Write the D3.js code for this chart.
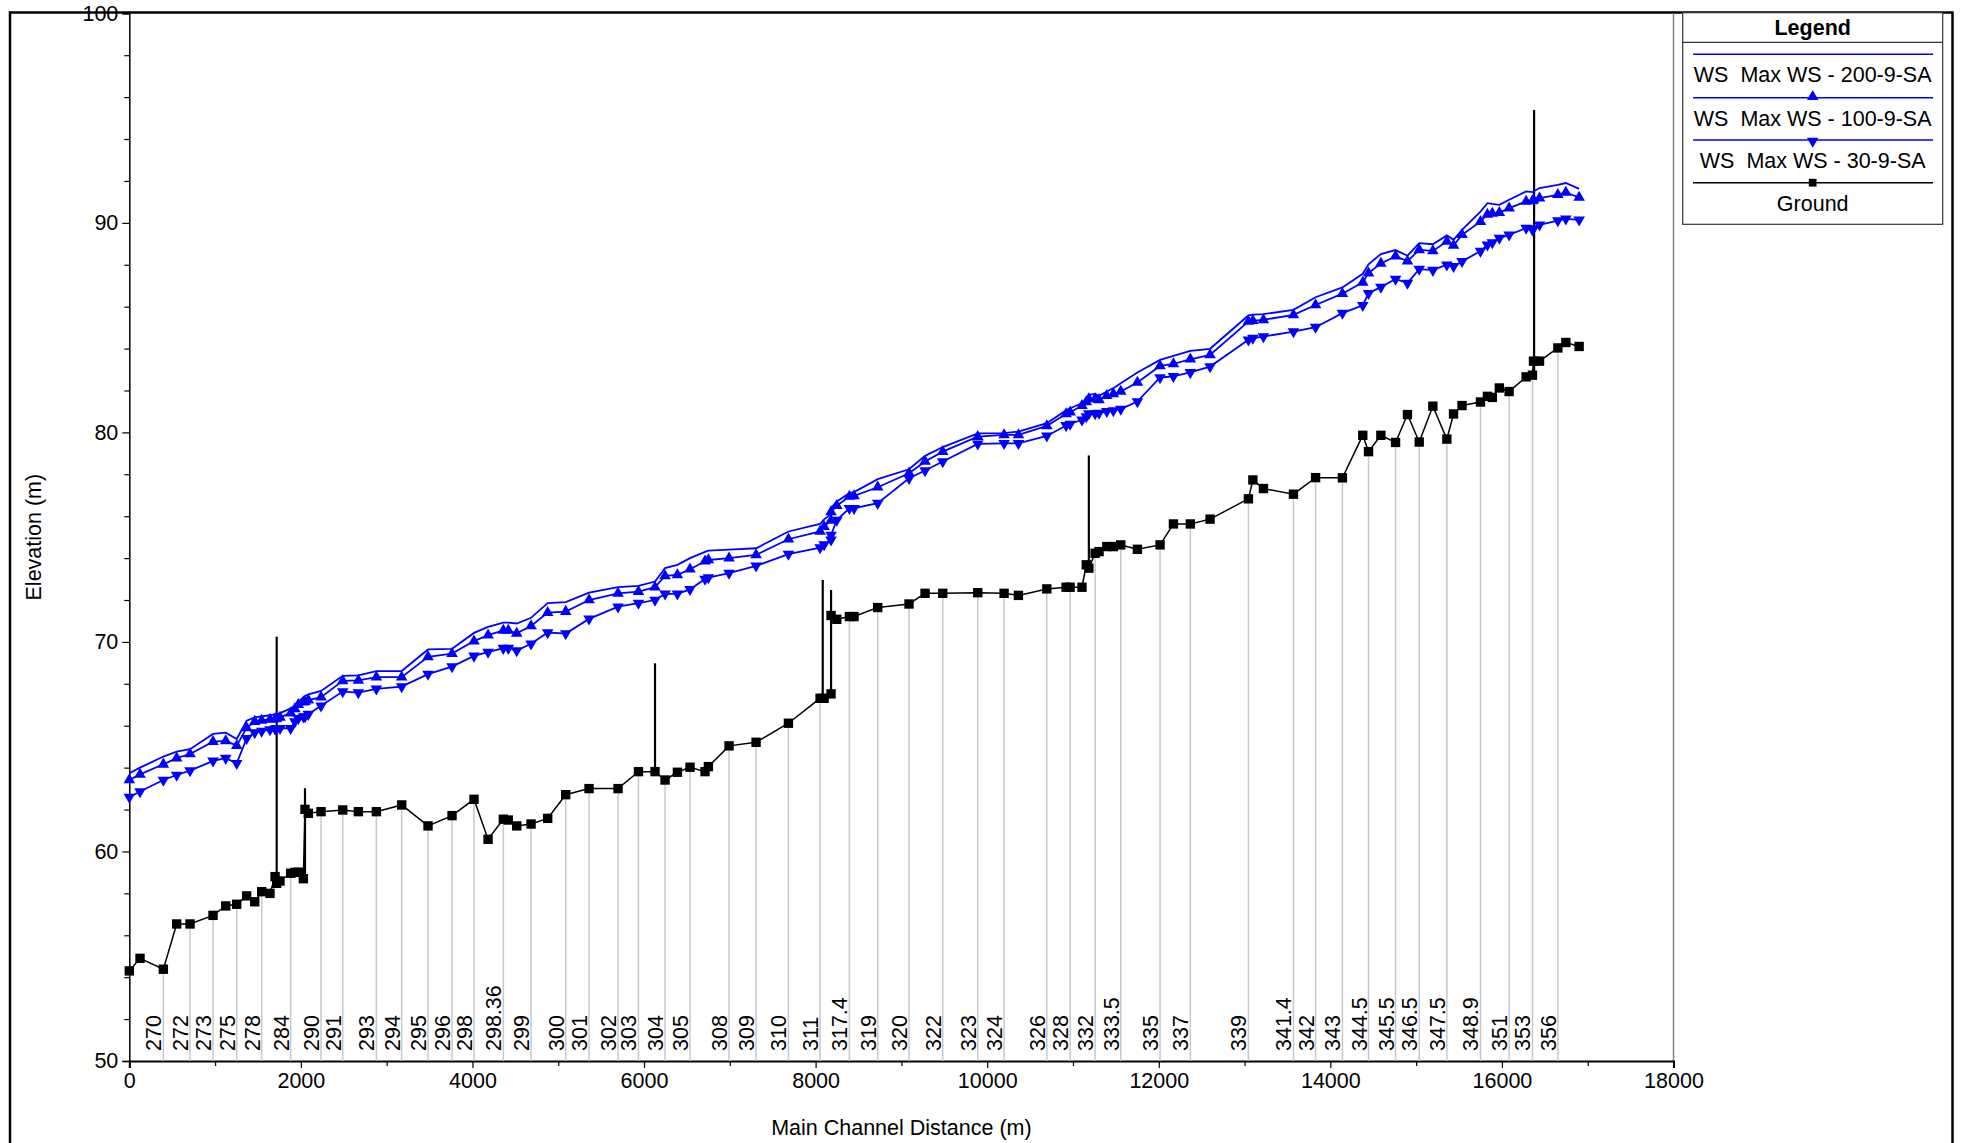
<!DOCTYPE html>
<html>
<head>
<meta charset="utf-8">
<title>Profile Plot</title>
<script src="https://cdn.jsdelivr.net/npm/d3@7"></script>
<style>
    body { margin: 0; background: #fff; }
    svg text { font-family: "Liberation Sans", Arial, sans-serif; fill: #000; }
</style>
</head>
<body>
<div id="chart"></div>
<script>
// ============================================
// HEC-RAS STYLE PROFILE PLOT
// ============================================

// Main channel distance of each cross section (m)
const dist = [0, 125, 397, 552, 708, 976, 1124, 1252, 1368, 1462,
    1543, 1640, 1699, 1718, 1757, 1881, 1930, 1970, 2029, 2048,
    2087, 2235, 2488, 2670, 2880, 3175, 3482, 3762, 4018, 4182,
    4360, 4418, 4516, 4683, 4877, 5087, 5359, 5697, 5935, 6128,
    6245, 6389, 6536, 6711, 6750, 6991, 7306, 7683, 8052, 8099,
    8180, 8180, 8247, 8394, 8448, 8724, 9089, 9276, 9482, 9890,
    10197, 10364, 10695, 10920, 10967, 11105, 11155, 11185, 11258, 11304,
    11394, 11471, 11557, 11751, 12015, 12171, 12368, 12598, 13045, 13097,
    13220, 13570, 13828, 14141, 14378, 14445, 14589, 14760, 14899, 15036,
    15195, 15358, 15436, 15535, 15750, 15831, 15888, 15970, 16084, 16282,
    16356, 16368, 16438, 16652, 16745, 16900];

// River station labels ('' = not labelled)
const rsLabel = ['', '', '270', '', '272', '273', '', '275', '', '',
    '278', '', '', '', '', '284', '', '', '', '',
    '', '290', '291', '', '293', '294', '295', '296', '298', '',
    '298.36', '', '', '299', '', '300', '301', '302', '303', '',
    '304', '', '305', '', '', '308', '309', '310', '311', '',
    '', '', '', '317.4', '', '319', '320', '', '322', '323',
    '324', '', '326', '', '328', '', '', '', '332', '',
    '', '', '333.5', '', '335', '', '337', '', '339', '',
    '', '341.4', '342', '343', '', '344.5', '', '345.5', '', '346.5',
    '', '347.5', '', '', '348.9', '', '', '', '351', '',
    '353', '', '', '356', '', ''];

const ground = [54.30, 54.90, 54.38, 56.54, 56.54, 56.95, 57.40, 57.48, 57.88, 57.60,
    58.08, 58.00, 58.80, 58.48, 58.59, 58.96, 59.00, 59.01, 58.70, 62.01,
    61.82, 61.90, 61.98, 61.90, 61.90, 62.22, 61.22, 61.71, 62.49, 60.58,
    61.54, 61.50, 61.22, 61.31, 61.58, 62.71, 63.00, 63.00, 63.81, 63.81,
    63.41, 63.78, 64.02, 63.81, 64.05, 65.04, 65.21, 66.12, 67.31, 67.31,
    67.52, 71.26, 71.08, 71.21, 71.21, 71.64, 71.81, 72.32, 72.32, 72.35,
    72.32, 72.22, 72.53, 72.61, 72.61, 72.61, 73.68, 73.52, 74.23, 74.31,
    74.55, 74.55, 74.63, 74.42, 74.63, 75.63, 75.63, 75.86, 76.83, 77.73,
    77.32, 77.05, 77.84, 77.83, 79.86, 79.08, 79.86, 79.52, 80.85, 79.54,
    81.25, 79.68, 80.88, 81.28, 81.45, 81.72, 81.67, 82.12, 81.95, 82.65,
    82.73, 83.40, 83.40, 84.03, 84.29, 84.10];

const ws200 = [63.73, 64.00, 64.53, 64.76, 64.88, 65.61, 65.67, 65.37, 66.24, 66.40,
    66.45, 66.50, 66.55, 66.56, 66.60, 66.83, 66.95, 67.15, 67.35, 67.42,
    67.50, 67.66, 68.38, 68.40, 68.61, 68.61, 69.64, 69.67, 70.43, 70.72,
    70.92, 70.92, 70.88, 71.15, 71.85, 71.90, 72.35, 72.62, 72.67, 72.88,
    73.52, 73.68, 74.00, 74.30, 74.36, 74.40, 74.47, 75.27, 75.63, 75.85,
    76.10, 76.40, 76.70, 77.10, 77.15, 77.77, 78.24, 78.88, 79.30, 79.95,
    79.96, 80.04, 80.44, 81.05, 81.15, 81.39, 81.55, 81.79, 81.84, 81.75,
    81.95, 82.11, 82.35, 82.86, 83.46, 83.65, 83.89, 83.99, 85.58, 85.62,
    85.64, 85.85, 86.45, 86.92, 87.57, 88.02, 88.51, 88.70, 88.43, 89.03,
    88.98, 89.40, 89.19, 89.67, 90.54, 90.94, 90.90, 90.86, 91.10, 91.50,
    91.47, 91.50, 91.66, 91.81, 91.90, 91.62];

const ws100 = [63.41, 63.68, 64.16, 64.45, 64.65, 65.24, 65.28, 65.05, 65.90, 66.20,
    66.25, 66.30, 66.33, 66.35, 66.40, 66.60, 66.80, 67.00, 67.12, 67.15,
    67.22, 67.36, 68.14, 68.16, 68.32, 68.32, 69.29, 69.44, 70.04, 70.32,
    70.55, 70.55, 70.41, 70.76, 71.40, 71.45, 72.00, 72.32, 72.40, 72.61,
    73.15, 73.20, 73.47, 73.85, 73.91, 74.00, 74.15, 74.90, 75.27, 75.50,
    75.80, 76.20, 76.50, 76.94, 76.97, 77.38, 78.05, 78.61, 79.08, 79.80,
    79.88, 79.88, 80.31, 80.88, 80.96, 81.27, 81.45, 81.60, 81.60, 81.55,
    81.75, 81.84, 81.95, 82.38, 83.17, 83.27, 83.49, 83.70, 85.29, 85.33,
    85.37, 85.61, 86.08, 86.62, 87.16, 87.60, 88.06, 88.41, 88.17, 88.71,
    88.66, 89.11, 88.92, 89.43, 90.06, 90.40, 90.45, 90.49, 90.70, 91.02,
    91.05, 91.10, 91.18, 91.34, 91.45, 91.21];

const ws30 = [62.59, 62.86, 63.41, 63.65, 63.86, 64.32, 64.45, 64.21, 65.40, 65.67,
    65.75, 65.82, 65.85, 65.88, 65.88, 65.88, 66.20, 66.35, 66.42, 66.44,
    66.55, 66.95, 67.63, 67.58, 67.76, 67.87, 68.46, 68.82, 69.33, 69.51,
    69.70, 69.70, 69.59, 69.91, 70.45, 70.40, 71.10, 71.68, 71.85, 72.00,
    72.29, 72.29, 72.51, 73.00, 73.07, 73.28, 73.63, 74.19, 74.50, 74.65,
    74.87, 75.10, 75.82, 76.38, 76.38, 76.62, 77.81, 78.18, 78.61, 79.45,
    79.48, 79.48, 79.83, 80.33, 80.40, 80.60, 80.75, 80.90, 80.90, 80.92,
    81.00, 81.04, 81.11, 81.47, 82.62, 82.67, 82.86, 83.14, 84.42, 84.50,
    84.57, 84.81, 85.02, 85.69, 86.06, 86.64, 86.93, 87.32, 87.12, 87.79,
    87.74, 88.00, 87.92, 88.16, 88.65, 88.95, 89.06, 89.27, 89.43, 89.75,
    89.67, 89.72, 89.90, 90.11, 90.19, 90.14];

// Bridges / inline structures drawn as vertical lines
const structDist = [1718, 2048, 6128, 8083, 8180, 11185, 16375];
const structBase = [58.48, 58.70, 63.81, 67.31, 67.52, 73.52, 82.73];
const structTop = [70.25, 63.02, 68.98, 72.96, 72.48, 78.90, 95.39];

// Axis ticks
const xTicks = [0, 2000, 4000, 6000, 8000, 10000, 12000, 14000, 16000, 18000];
const xMinor = [1000, 3000, 5000, 7000, 9000, 11000, 13000, 15000, 17000];
const yTicks = [50, 60, 70, 80, 90, 100];
const yMinor = [52, 54, 56, 58, 62, 64, 66, 68, 72, 74, 76, 78, 82, 84, 86, 88, 92, 94, 96, 98];

const legendItems = ['WS  Max WS - 200-9-SA', 'WS  Max WS - 100-9-SA', 'WS  Max WS - 30-9-SA', 'Ground'];

// ============================================
// Setup
// ============================================
const W = 1963, H = 1143;
const plot = { left: 129.3, right: 1673.5, top: 13.3, bottom: 1061 };
const BLUE = '#0000ff';

const svg = d3.select('#chart').append('svg')
    .attr('width', W)
    .attr('height', H);

const x = d3.scaleLinear().domain([0, 18000]).range([plot.left, plot.right]);
const y = d3.scaleLinear().domain([50, 100]).range([plot.bottom, plot.top]);

// Outer frame
svg.append('rect')
    .attr('x', 10).attr('y', 12.5)
    .attr('width', 1942.5).attr('height', 1150)
    .attr('fill', 'none').attr('stroke', '#000').attr('stroke-width', 2.5);

// Plot right border
svg.append('line')
    .attr('x1', plot.right).attr('x2', plot.right)
    .attr('y1', plot.top).attr('y2', plot.bottom)
    .attr('stroke', '#808080').attr('stroke-width', 1.5);

// ============================================
// Axes
// ============================================
const fontSize = 21.5;

const xAxis = svg.append('g')
    .attr('transform', `translate(0,${plot.bottom})`)
    .call(d3.axisBottom(x).tickValues(xTicks).tickSize(7).tickPadding(5).tickFormat(d3.format('d')));
svg.append('g')
    .attr('transform', `translate(0,${plot.bottom})`)
    .call(d3.axisBottom(x).tickValues(xMinor).tickSize(5).tickFormat(''))
    .select('.domain').remove();

const yAxis = svg.append('g')
    .attr('transform', `translate(${plot.left},0)`)
    .call(d3.axisLeft(y).tickValues(yTicks).tickSize(7).tickPadding(4).tickFormat(d3.format('d')));
svg.append('g')
    .attr('transform', `translate(${plot.left},0)`)
    .call(d3.axisLeft(y).tickValues(yMinor).tickSize(5).tickFormat(''))
    .select('.domain').remove();

svg.selectAll('.tick text')
    .style('font-size', fontSize + 'px')
    .style('font-family', '"Liberation Sans", Arial, sans-serif');
svg.selectAll('.tick line').attr('stroke', '#000').attr('stroke-width', 1.2);
xAxis.select('.domain').attr('stroke', '#000').attr('stroke-width', 2);
yAxis.select('.domain').attr('stroke', '#000').attr('stroke-width', 1.5);

// Axis titles
svg.append('text')
    .attr('x', (plot.left + plot.right) / 2)
    .attr('y', 1135)
    .attr('text-anchor', 'middle')
    .style('font-size', fontSize + 'px')
    .text('Main Channel Distance (m)');

svg.append('text')
    .attr('transform', `translate(41,${(plot.top + plot.bottom) / 2}) rotate(-90)`)
    .attr('text-anchor', 'middle')
    .style('font-size', fontSize + 'px')
    .text('Elevation (m)');

// ============================================
// Cross section lines and labels
// ============================================
const sections = dist.map((d, i) => ({ d, g: ground[i], label: rsLabel[i] }))
    .filter(s => s.label !== '');

svg.append('g').selectAll('line')
    .data(sections)
    .enter().append('line')
    .attr('x1', s => x(s.d)).attr('x2', s => x(s.d))
    .attr('y1', s => y(s.g)).attr('y2', plot.bottom)
    .attr('stroke', '#c8c8c8').attr('stroke-width', 1.5);

svg.append('g').selectAll('text')
    .data(sections)
    .enter().append('text')
    .attr('transform', s => `translate(${x(s.d) - 2},${plot.bottom - 10}) rotate(-90)`)
    .style('font-size', fontSize + 'px')
    .text(s => s.label);

// ============================================
// Series
// ============================================
const lineGen = d3.line()
    .x(p => x(p[0]))
    .y(p => y(p[1]));

function series(values) {
    return dist.map((d, i) => [d, values[i]]);
}

// Ground
svg.append('path')
    .datum(series(ground))
    .attr('d', lineGen)
    .attr('fill', 'none').attr('stroke', '#000').attr('stroke-width', 1.5);

// Structures
svg.append('g').selectAll('line')
    .data(structDist.map((d, i) => ({ d, b: structBase[i], t: structTop[i] })))
    .enter().append('line')
    .attr('x1', s => x(s.d)).attr('x2', s => x(s.d))
    .attr('y1', s => y(s.b)).attr('y2', s => y(s.t))
    .attr('stroke', '#000').attr('stroke-width', 2.2);

// Water surfaces
[ws200, ws100, ws30].forEach(values => {
    svg.append('path')
        .datum(series(values))
        .attr('d', lineGen)
        .attr('fill', 'none').attr('stroke', BLUE).attr('stroke-width', 1.8);
});

const triUp = d3.symbol().type(d3.symbolTriangle).size(58);
const square = d3.symbol().type(d3.symbolSquare).size(88);

svg.append('g').selectAll('path')
    .data(series(ws100))
    .enter().append('path')
    .attr('d', triUp)
    .attr('transform', p => `translate(${x(p[0])},${y(p[1])})`)
    .attr('fill', BLUE);

svg.append('g').selectAll('path')
    .data(series(ws30))
    .enter().append('path')
    .attr('d', triUp)
    .attr('transform', p => `translate(${x(p[0])},${y(p[1])}) rotate(180)`)
    .attr('fill', BLUE);

svg.append('g').selectAll('path')
    .data(series(ground))
    .enter().append('path')
    .attr('d', square)
    .attr('transform', p => `translate(${x(p[0])},${y(p[1])})`)
    .attr('fill', '#000');

// ============================================
// Legend
// ============================================
const legend = svg.append('g');
const lgX = 1682.7, lgW = 260, lgY = 12.7, lgH = 211.6;
const lgCx = lgX + lgW / 2;

legend.append('rect')
    .attr('x', lgX).attr('y', lgY).attr('width', lgW).attr('height', lgH)
    .attr('fill', '#fff').attr('stroke', '#333').attr('stroke-width', 1.2);
legend.append('line')
    .attr('x1', lgX).attr('x2', lgX + lgW)
    .attr('y1', 42.3).attr('y2', 42.3)
    .attr('stroke', '#333').attr('stroke-width', 1.2);
legend.append('text')
    .attr('x', lgCx).attr('y', 35)
    .attr('text-anchor', 'middle')
    .style('font-size', fontSize + 'px').style('font-weight', 'bold')
    .text('Legend');

const rowLineY = [54.3, 97.7, 140, 182.7];
const rowColor = [BLUE, BLUE, BLUE, '#000'];
const rowMarker = [null, 'up', 'down', 'square'];

legendItems.forEach((name, i) => {
    const ly = rowLineY[i];
    legend.append('line')
        .attr('x1', 1693).attr('x2', 1933)
        .attr('y1', ly).attr('y2', ly)
        .attr('stroke', rowColor[i]).attr('stroke-width', 1.5);
    if (rowMarker[i] === 'up') {
        legend.append('path').attr('d', triUp)
            .attr('transform', `translate(${lgCx},${ly - 1})`).attr('fill', BLUE);
    } else if (rowMarker[i] === 'down') {
        legend.append('path').attr('d', triUp)
            .attr('transform', `translate(${lgCx},${ly + 1}) rotate(180)`).attr('fill', BLUE);
    } else if (rowMarker[i] === 'square') {
        legend.append('path').attr('d', d3.symbol().type(d3.symbolSquare).size(60))
            .attr('transform', `translate(${lgCx},${ly})`).attr('fill', '#000');
    }
    legend.append('text')
        .attr('x', lgCx).attr('y', ly + 28)
        .attr('text-anchor', 'middle')
        .style('font-size', fontSize + 'px')
        .style('white-space', 'pre')
        .text(name);
});
</script>
</body>
</html>
